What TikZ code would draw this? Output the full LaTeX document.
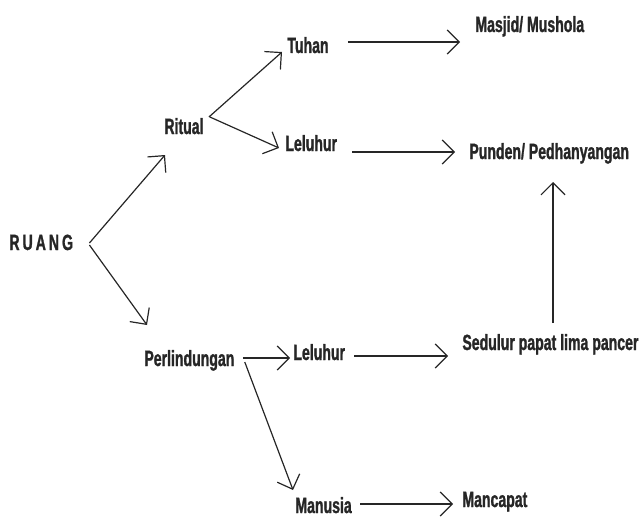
\documentclass[tikz,border=0pt]{standalone}
\usepackage{fontspec}
\setmainfont{Liberation Sans}[FakeStretch=0.64, BoldFeatures={FakeBold=1.2}]
\usetikzlibrary{arrows.meta}

\tikzset{
  lbl/.style={anchor=west, inner sep=0pt, text height=8pt, text depth=0pt,
    font=\fontsize{11}{13}\selectfont\bfseries, text=black!85},
  arr/.style={-{Straight Barb[length=6pt,width=12pt]}, line width=0.6pt, black!85}
}

\begin{document}
\begin{tikzpicture}[x=0.5pt, y=-0.5pt]
  \useasboundingbox (0,0) rectangle (640,524);

  % nodes
  \node[lbl] (ruang) at (9,242) {R\hspace{1.5pt}U\hspace{1.5pt}A\hspace{1.5pt}N\hspace{1.5pt}G};
  \node[lbl] (ritual) at (164,126) {Ritual};
  \node[lbl] (tuhan) at (287,45) {Tuhan};
  \node[lbl] (leluhurA) at (285,143) {Leluhur};
  \node[lbl] (masjid) at (475,24) {Masjid/ Mushola};
  \node[lbl] (punden) at (469,151) {Punden/ Pedhanyangan};
  \node[lbl] (perlindungan) at (144,358) {Perlindungan};
  \node[lbl] (leluhurB) at (293,352) {Leluhur};
  \node[lbl] (sedulur) at (462,342) {Sedulur papat lima pancer};
  \node[lbl] (manusia) at (295,505) {Manusia};
  \node[lbl] (mancapat) at (462,499) {Mancapat};

  % connectors
  \draw[arr] ([shift={(16,1)}]ruang.east) -- ([shift={(1,29)}]ritual.west);
  \draw[arr] ([shift={(5,-9)}]ritual.east) -- ([shift={(-5,7)}]tuhan.west);
  \draw[arr] ([shift={(6,-9)}]ritual.east) -- ([shift={(-6,5)}]leluhurA.west);
  \draw[arr] ([shift={(19,-3)}]tuhan.east) -- ([shift={(-15,18)}]masjid.west);
  \draw[arr] ([shift={(15,9)}]leluhurA.east) -- ([shift={(-14,1)}]punden.west);
  \draw[arr] ([shift={(16,3)}]ruang.east) -- ([shift={(3,-33)}]perlindungan.west);
  \draw[arr] ([shift={(8,0)}]perlindungan.east) -- ([shift={(-3,6)}]leluhurB.west);
  \draw[arr] ([shift={(10,4)}]perlindungan.east) -- ([shift={(-2,-15)}]manusia.west);
  \draw[arr] ([shift={(9,4)}]leluhurB.east) -- ([shift={(-14,14)}]sedulur.west);
  \draw[arr] ([shift={(91,-19)}]sedulur.west) -- ([shift={(84,31)}]punden.west);
  \draw[arr] ([shift={(8,-1)}]manusia.east) -- ([shift={(-9,5)}]mancapat.west);
\end{tikzpicture}
\end{document}
